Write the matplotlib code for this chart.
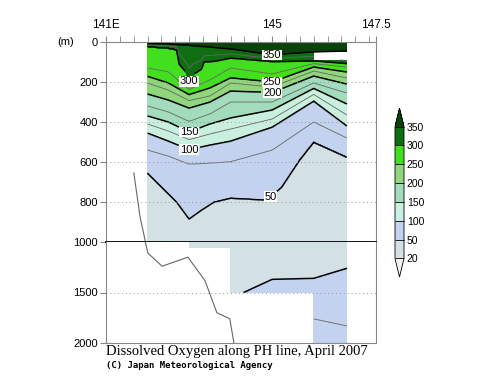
import numpy as np
import matplotlib.pyplot as plt
from matplotlib.colors import ListedColormap, BoundaryNorm

plt.rcParams['font.family'] = ['Liberation Sans', 'DejaVu Sans']

# stations (deg E) and deepest data (m)
lons = [142.0, 142.5, 143.0, 143.5, 144.0, 145.0, 146.0, 146.8]
bottom = [1000, 1000, 1050, 1050, 1500, 1500, 2000, 2000]

# depth (m) of each oxygen isoline at the stations
d350 = [8, 10, 15, 25, 35, 65, 50, 45]
d275 = [130, 150, 238, 190, 130, 160, 108, 125]
d250 = [172, 205, 263, 230, 180, 200, 125, 150]
d225 = [205, 240, 293, 270, 205, 225, 145, 180]
d200 = [260, 290, 330, 300, 245, 252, 170, 210]
d175 = [320, 350, 397, 360, 300, 300, 205, 255]
d150 = [370, 400, 450, 410, 380, 340, 232, 310]
d125 = [410, 445, 488, 460, 435, 385, 262, 365]
d100 = [455, 495, 538, 515, 495, 425, 295, 420]
d75 = [540, 570, 610, 605, 598, 540, 400, 480]
# oxygen minimum and deep increase
dmin = [1100, 1100, 1100, 1100, 1100, 1100, 1100, 1100]
d50deep = [2500, 2500, 2500, 2400, 1560, 1370, 1360, 1260]
d75deep = [2800, 2800, 2800, 2800, 1900, 1800, 1760, 1830]

# isolines read at more points (tongue under 143E, rise toward 146E)
lon300 = [142.0, 142.5, 142.7, 142.76, 142.92, 143.0, 143.1, 143.3, 143.36, 143.65, 144.0, 145.0, 146.0, 146.8]
d325 = [15, 20, 25, 60, 100, 130, 110, 90, 70, 65, 60, 82, 72, 95]
d300 = [22, 30, 38, 110, 150, 200, 163, 135, 100, 95, 80, 97, 95, 108]
lon50 = [142.0, 142.7, 143.0, 143.3, 143.6, 144.0, 144.87, 145.23, 145.5, 145.66, 146.0, 146.8]
d50 = [655, 800, 885, 840, 800, 780, 790, 725, 640, 590, 500, 575]

prof_vals = [375, 350, 325, 300, 275, 250, 225, 200, 175, 150, 125, 100, 75, 50, 38, 50, 75, 90]

# no data east of 146E between these depths
gap_top, gap_bot = 50, 90

# bottom topography
bot_lon = [141.67, 141.82, 141.94, 142.01, 142.35, 142.97, 143.38, 143.67, 143.98, 144.10]
bot_dep = [655, 875, 990, 1110, 1240, 1150, 1380, 1700, 1760, 2050]

levels = [20, 50, 100, 150, 200, 250, 300, 350]
colors = ['#d3e1e5', '#c3d2ee', '#c9f0de', '#a2dcbc', '#8fd67c', '#42df1f', '#0f6f10']
cmap = ListedColormap(colors)
cmap.set_under('#f2f4f2')
cmap.set_over('#0b420b')
norm = BoundaryNorm(levels, cmap.N)

# isolines are interpolated linearly in depth between the points read
iso = [(lons, d350), (lon300, d325), (lon300, d300), (lons, d275), (lons, d250),
       (lons, d225), (lons, d200), (lons, d175), (lons, d150), (lons, d125),
       (lons, d100), (lons, d75), (lon50, d50), (lons, dmin), (lons, d50deep),
       (lons, d75deep)]
lon_f = np.linspace(lons[0], lons[-1], 481)
z = np.arange(0, 2001, 5)
V = np.full((len(z), len(lon_f)), np.nan)
cell = np.clip(np.searchsorted(lons, lon_f, side='right') - 1, 0, len(lons) - 2)
for k, x in enumerate(lon_f):
    deps = [0] + [np.interp(x, xs, d) for xs, d in iso] + [3000]
    v = np.interp(z, deps, prof_vals)
    j = cell[k]
    v[z > min(bottom[j], bottom[j + 1])] = np.nan
    if x > 146.0:
        v[(z > gap_top) & (z < gap_bot)] = np.nan
    V[:, k] = v
Vm = np.ma.masked_invalid(V)

fig = plt.figure(figsize=(5, 3.87), dpi=100)
W, H = 500, 387
ax1 = fig.add_axes([106/W, 1-242/H, 270/W, 200/H])
ax2 = fig.add_axes([106/W, 1-343/H, 270/W, 101/H])

thick = [50, 100, 150, 200, 250, 300, 350]
thin = [75, 125, 175, 225, 275, 325]
for ax in (ax1, ax2):
    cf = ax.contourf(lon_f, z, Vm, levels=levels, cmap=cmap, norm=norm, extend='both', corner_mask=False)
    ax.contour(lon_f, z, Vm, levels=thin, colors='#666666', linewidths=0.6, corner_mask=False)
    cs = ax.contour(lon_f, z, Vm, levels=thick, colors='k', linewidths=1.1, corner_mask=False)
    ax.plot(bot_lon, bot_dep, color='#666666', lw=0.8)
    ax.set_xlim(141, 147.5)
    for s in ax.spines.values():
        s.set_color('#888888')
    if ax is ax1:
        cs1 = cs

ax1.set_ylim(1000, 0)
ax2.set_ylim(2000, 1000)
ax1.spines['bottom'].set_color('k')
ax1.spines['bottom'].set_linewidth(1.3)
ax2.spines['top'].set_visible(False)

ax1.set_yticks([0, 200, 400, 600, 800, 1000])
ax2.set_yticks([1500, 2000])
for ax in (ax1, ax2):
    ax.tick_params(axis='y', direction='out', length=4, color='#888888', labelsize=8, pad=2)
    ax.tick_params(axis='x', bottom=False, labelbottom=False)
for y in [200, 400, 600, 800]:
    ax1.axhline(y, color='#999999', lw=0.7, ls=(0, (1, 3)))
ax2.axhline(1500, color='#999999', lw=0.7, ls=(0, (1, 3)))

ax1.xaxis.set_ticks_position('top')
ax1.set_xticks([141, 145, 147.5])
ax1.set_xticklabels(['141E', '145', '147.5'])
ax1.set_xticks(np.arange(141, 147.5, 1/3), minor=True)
ax1.tick_params(axis='x', which='both', top=True, direction='out', length=4,
                color='#888888', labelsize=8.5, pad=4)

labs = ax1.clabel(cs1, fmt='%d', fontsize=8,
                  manual=[(145, 65), (143, 195), (145, 200), (145, 252),
                          (143, 450), (143, 540), (145, 785)], inline=True, inline_spacing=2)
for t in labs:
    t.set_rotation(0)
    t.set_bbox(dict(fc='white', ec='none', pad=0.3))

fig.text(66/W, 1-42/H, '(m)', ha='center', va='center', fontsize=8)

cax = fig.add_axes([395/W, 1-277/H, 9/W, 169/H])
cb = fig.colorbar(cf, cax=cax, extend='both', extendfrac=0.141, drawedges=True, ticks=levels)
cb.ax.tick_params(length=0, labelsize=7.5, pad=2)
cb.outline.set_linewidth(0.6)
cb.dividers.set_linewidth(0.6)

fig.text(106/W, 1-352/H, 'Dissolved Oxygen along PH line, April 2007',
         family='Liberation Serif', fontsize=10.5, va='center')
fig.text(106/W, 1-366/H, '(C) Japan Meteorological Agency',
         family='DejaVu Sans Mono', weight='bold', fontsize=6.5, va='center')

plt.savefig('out.png', dpi=100)
